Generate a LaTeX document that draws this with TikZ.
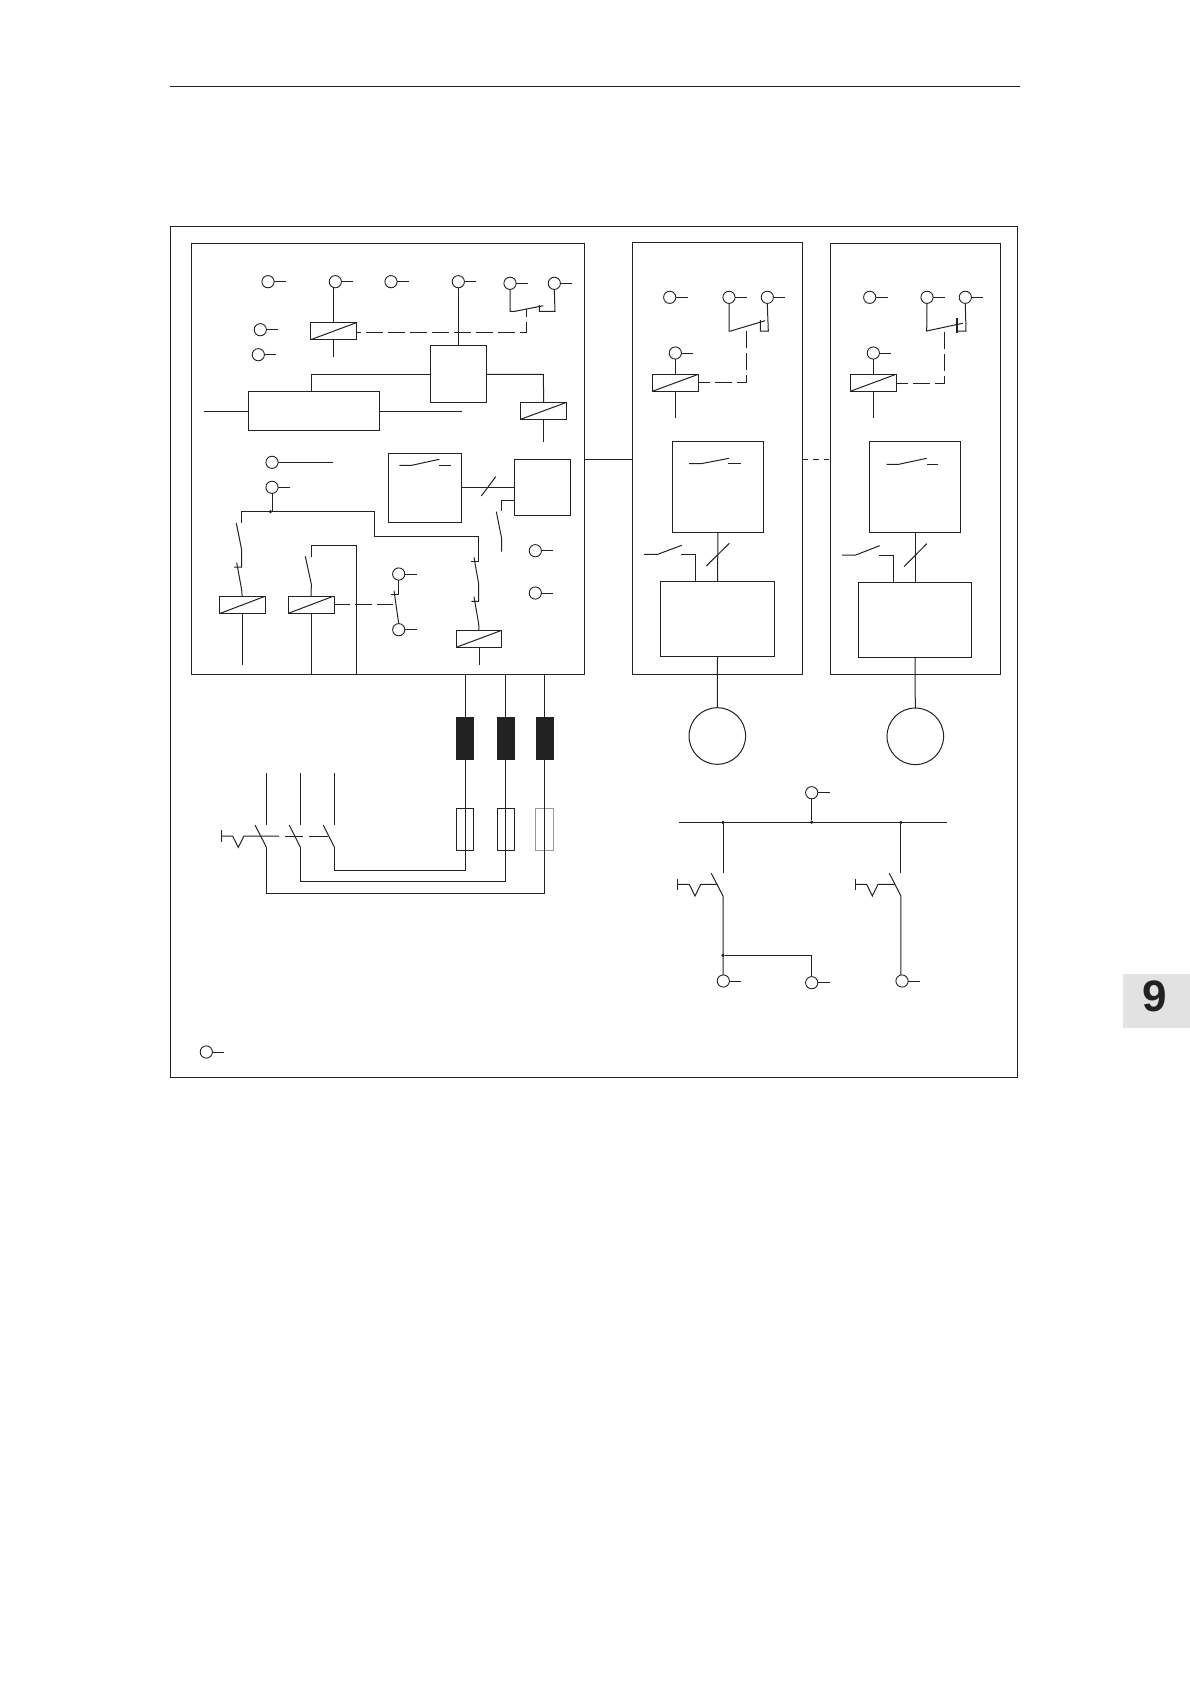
\documentclass[tikz,border=0pt]{standalone}
\usepackage{fontspec}
\setsansfont{Liberation Sans}
\definecolor{ink}{HTML}{222222}
\definecolor{tabgray}{HTML}{E2E2E2}
\definecolor{palegray}{HTML}{9A9A9A}
\newcommand{\bx}[6][blockbox]{%
  \pgfmathsetmacro\bxX{(#3+#5)/2}\pgfmathsetmacro\bxY{(#4+#6)/2}%
  \pgfmathsetmacro\bxW{#5-#3}\pgfmathsetmacro\bxH{#6-#4}%
  \node[#1,minimum width=\bxW pt,minimum height=\bxH pt] (#2) at (\bxX,\bxY) {};}
\newcommand{\term}[4][12]{% name, x, y, tail length
  \node[termnode] (#2) at (#3,#4) {};
  \draw[wire] (#2.east) -- ++(#1,0);}
\tikzset{
  wire/.style={draw=ink,line width=1pt},
  mech/.style={draw=ink,line width=1pt,dash pattern=on 17pt off 5pt},
  blockbox/.style={draw=ink,line width=1pt,inner sep=0pt,outer sep=0pt},
  fusebox/.style={blockbox},
  chokebox/.style={fill=ink,inner sep=0pt,outer sep=0pt},
  relaybox/.style={blockbox,path picture={\draw[wire] (path picture bounding box.south west) -- (path picture bounding box.north east);}},
  termnode/.style={circle,draw=ink,line width=0.9pt,minimum size=12.2pt,inner sep=0pt,outer sep=0pt},
  motornode/.style={circle,draw=ink,line width=1pt,minimum size=56.6pt,inner sep=0pt,outer sep=0pt},
  dotnode/.style={circle,fill=ink,minimum size=3.6pt,inner sep=0pt,outer sep=0pt},
}
\begin{document}
\begin{tikzpicture}[x=1pt,y=-1pt]
\useasboundingbox (0,0) rectangle (1190,1684);
\fill[white] (0,0) rectangle (1190,1684);
% page furniture
\draw[wire] (170,86.5) -- (1019.5,86.5);
\node[fill=tabgray,minimum width=67pt,minimum height=54pt,inner sep=0pt,outer sep=0pt] (tab) at (1156.5,1001) {};
\node[font=\sffamily\bfseries\fontsize{44}{44}\selectfont,text=ink,inner sep=0pt] (tabnum) at (1155,996.3) {9};
% frames
\bx{frame}{170.5}{226.5}{1017.5}{1077}
\bx{panelA}{191.5}{243}{584.7}{674.3}
\bx{panelB}{632.3}{242.7}{802.7}{674.3}
\bx{panelC}{830.3}{243}{1000.3}{674.3}
\draw[wire] (panelA.east |- 0,459.3) -- (panelB.west |- 0,459.3);
\draw[wire,dash pattern=on 5.5pt off 5pt] (panelB.east |- 0,459.3) -- (panelC.west |- 0,459.3);
% ---- panel A, top
\term{a1}{268}{281.7}
\term{a2}{335.3}{281.7}
\term{a3}{391}{281.7}
\term{a4}{458.3}{281.7}
\term{a5}{510}{283.3}
\term{a6}{554.3}{283.3}
\term{a7}{260.3}{329.7}
\term{a8}{258.3}{354.7}
\bx[relaybox]{rA}{310.7}{322.7}{356.3}{339.7}
\draw[wire] (rA.north) -- (rA.north |- a2.south);
\draw[wire] (rA.south) -- ++(0,17.6);
\draw[mech,dash phase=12pt] (rA.east |- 0,332.7) -- (526.7,332.7) -- (526.7,309);
\coordinate (a5k) at (510,311.3);
\draw[wire] (a5.south) -- (a5k) -- (515,311.3) -- (543.3,305.7);
\draw[wire] (a6.south) -- (555,311.3) -- (539.3,311.3) -- (539.3,305);
\bx{ctrl}{430.3}{345.3}{486.3}{402.3}
\bx{conv}{248.3}{391.3}{379.3}{430.3}
\bx[relaybox]{rB}{520.7}{402.3}{566.7}{419.3}
\draw[wire] (a4.south) -- (ctrl.north);
\draw[wire] (conv.north -| 311.3,0) -- (311.3,374.3) -- (ctrl.west |- 0,374.3);
\draw[wire] (ctrl.east |- 0,374.3) -- (543.3,374.3) -- (rB.north);
\draw[wire] (rB.south) -- ++(0,22.7);
\draw[wire] (conv.west |- 0,411.3) -- (204.3,411.3);
\draw[wire] (conv.east |- 0,411.3) -- (462,411.3);
% ---- panel A, middle
\term[54.6]{a9}{272}{462.3}
\term[11.5]{a10}{272}{487.3}
\bx{swA}{388.3}{453.3}{461.7}{522.3}
\bx{logicA}{514.3}{459.3}{570.7}{515.3}
\draw[wire] (399.3,465.3) -- (411.7,465.3) -- (439.3,459.3);
\draw[wire] (439.3,465.3) -- (451,465.3);
\draw[wire] (swA.east |- 0,487.3) -- (logicA.west |- 0,487.3);
\draw[wire] (481.3,496) -- (495.7,476.7);
\draw[wire] (logicA.west |- 0,500.3) -- (501.7,500.3) -- (501.7,511.3);
\draw[wire] (496.3,511.7) -- (501.7,538.7) -- (501.7,551.7);
\term{a11}{535.3}{550.7}
\term{a12}{535.3}{593}
% ---- panel A, control chain
\node[dotnode] (dA) at (270.5,511.6) {};
\draw[wire] (a10.south) -- (a10.south |- dA);
\draw[wire] (241.7,522.7) -- (241.7,511.3) -- (374.3,511.3) -- (374.3,536.3) -- (478.7,536.3) -- (478.7,561.7) -- (471.3,561.7);
\bx[relaybox]{rC}{219.3}{596.3}{265}{613.7}
\bx[relaybox]{rD}{288.3}{596}{334}{613.3}
\bx[relaybox]{rE}{456.3}{630.3}{501.7}{647.3}
% chain into rC
\draw[wire] (236.3,523) -- (241.7,550) -- (241.7,567) -- (234,567);
\draw[wire] (236.7,562.7) -- (241.7,590) -- (rC.north);
\draw[wire] (rC.south) -- ++(0,51);
% chain into rD
\draw[wire] (305.3,556.3) -- (311.3,584) -- (rD.north);
\draw[wire] (rD.south) -- (rD.south |- panelA.south);
\draw[wire] (311.3,556.7) -- (311.3,545.3) -- (356.3,545.3) -- (356.3,674.3);
% chain into rE
\draw[wire] (474,557.3) -- (478.7,584) -- (478.7,601.3) -- (471.3,601.3);
\draw[wire] (474,596.7) -- (478.7,624) -- (rE.north);
\draw[wire] (rE.south) -- ++(0,17.4);
% contact by rD
\term{a13}{398.7}{574}
\term{a14}{398.7}{629.7}
\draw[wire] (a13.south) -- (398.7,594.7) -- (391.3,594.7);
\draw[wire] (394,590.7) -- (a14.north);
\draw[mech,dash phase=1pt] (rD.east |- 0,604.3) -- (392.7,604.3);
% ---- panel B
\term{b1}{669.7}{297.3}
\term{b2}{729}{297.3}
\term{b3}{767.3}{297.3}
\term{b4}{675.3}{353}
\bx[relaybox]{rF}{652.3}{374.3}{698.3}{391.3}
\draw[wire] (rF.north) -- (rF.north |- b4.south);
\draw[wire] (rF.south) -- ++(0,26.4);
\draw[wire] (b2.south) -- (729,331) -- (730.7,331) -- (765,320.7);
\draw[wire] (b3.south) -- (768.3,331) -- (760.3,331) -- (760.3,320);
\draw[mech,dash phase=5pt] (rF.east |- 0,382.3) -- (746.7,382.3) -- (746.7,326);
\bx{swB}{672.3}{441.3}{763.7}{532.3}
\bx{drvB}{660.3}{581.3}{774.7}{656.3}
\node[motornode] (mB) at (717.3,736) {};
\draw[wire] (689,463.7) -- (701,463.7) -- (729,458.3);
\draw[wire] (728.3,463.7) -- (740.7,463.7);
\draw[wire] (swB.south) -- (drvB.north);
\draw[wire] (706.3,566) -- (729.3,543.3);
\draw[wire] (644,554.3) -- (657.7,554.3) -- (681.7,545.3);
\draw[wire] (681.3,554.3) -- (695.3,554.3) -- (drvB.north -| 695.3,0);
\draw[wire] (drvB.south) -- (mB.north);
% ---- panel C
\term{c1}{869.7}{297.3}
\term{c2}{927}{297.3}
\term{c3}{965.3}{297.3}
\term{c4}{873.3}{353}
\bx[relaybox]{rG}{850.3}{374.3}{896}{391.3}
\draw[wire] (rG.north) -- (rG.north |- c4.south);
\draw[wire] (rG.south) -- ++(0,27);
\draw[wire] (c2.south) -- (926.7,331) -- (962.7,323.3);
\draw[wire] (c3.south) -- (966,331) -- (957,331);
\draw[draw=ink,line width=1.8pt] (957,318.3) -- (957,333.3);
\draw[mech,dash phase=5pt] (rG.east |- 0,383.3) -- (944.3,383.3) -- (944.3,328.3);
\bx{swC}{869.3}{441.3}{960.7}{532.3}
\bx{drvC}{858.3}{582.3}{971.7}{657.7}
\node[motornode] (mC) at (915.3,736.3) {};
\draw[wire] (886.7,464.3) -- (898.7,464.3) -- (926.7,458.3);
\draw[wire] (926.7,464.3) -- (938,464.3);
\draw[wire] (swC.south) -- (drvC.north);
\draw[wire] (904,566.7) -- (926.7,543.7);
\draw[wire] (842,555) -- (855.7,555) -- (879.7,545.7);
\draw[wire] (879,555) -- (893,555) -- (drvC.north -| 893,0);
\draw[wire] (drvC.south) -- (mC.north);
% ---- chokes and fuses
\bx[chokebox]{ch1}{456}{717}{474}{760}
\bx[chokebox]{ch2}{497}{717}{515}{760}
\bx[chokebox]{ch3}{536}{717}{554}{760}
\bx[fusebox]{fu1}{456.3}{808}{473.7}{850.3}
\bx[fusebox]{fu2}{497}{808}{514.7}{850.3}
\bx[fusebox,draw=palegray]{fu3}{535.7}{808}{553.3}{850.3}
\draw[wire] (465.3,674.3) -- (465.3,870.3) -- (334.3,870.3) -- (334.3,847);
\draw[wire] (505.7,674.3) -- (505.7,881.3) -- (300.3,881.3) -- (300.3,847);
\draw[wire] (544.7,674.3) -- (544.7,893.3) -- (266.3,893.3) -- (266.3,847);
\draw[wire] (323.3,825) -- (334.3,847);
\draw[wire] (289.3,825) -- (300.3,847);
\draw[wire] (255,825) -- (266.3,847);
\draw[wire] (334.3,773.3) -- (334.3,825);
\draw[wire] (300.3,773.3) -- (300.3,825);
\draw[wire] (266.3,773.3) -- (266.3,825);
\draw[wire] (221.3,830.3) -- (221.3,841.7);
\draw[wire] (221.3,836) -- (232.7,836) -- (238.3,847.3) -- (244,836) -- (279,836);
\draw[wire] (285,836) -- (303.3,836);
\draw[wire] (309.3,836) -- (328.3,836);
% ---- bus
\term{d1}{811.7}{792.7}
\term{d2}{723.3}{981}
\term{d3}{811.7}{982.7}
\term{d4}{902}{981}
\term[11.5]{d5}{206.3}{1052}
\draw[wire] (679.3,822.3) -- (946.7,822.3);
\node[dotnode] (j1) at (723,822.5) {};
\node[dotnode] (j2) at (811.7,822.2) {};
\node[dotnode] (j3) at (900.9,822.5) {};
\node[dotnode] (j4) at (723,955.4) {};
\draw[wire] (d1.south) -- (j2);
\draw[wire] (j1) -- (723,873.3);
\draw[wire] (j3) -- (900.9,873.3);
\draw[wire] (711.3,873.3) -- (723,896) -- (d2.north -| 723,0);
\draw[wire] (889.3,873.3) -- (900.9,896) -- (d4.north -| 900.9,0);
\draw[wire] (j4) -- (811.7,955.4) -- (d3.north);
\draw[wire] (677.3,879) -- (677.3,890);
\draw[wire] (677.3,884.3) -- (689.3,884.3) -- (695,896) -- (700.7,884.3) -- (717,884.3);
\draw[wire] (855.3,879) -- (855.3,890);
\draw[wire] (855.3,884.3) -- (866.7,884.3) -- (872.3,896) -- (878,884.3) -- (895,884.3);
\end{tikzpicture}
\end{document}
